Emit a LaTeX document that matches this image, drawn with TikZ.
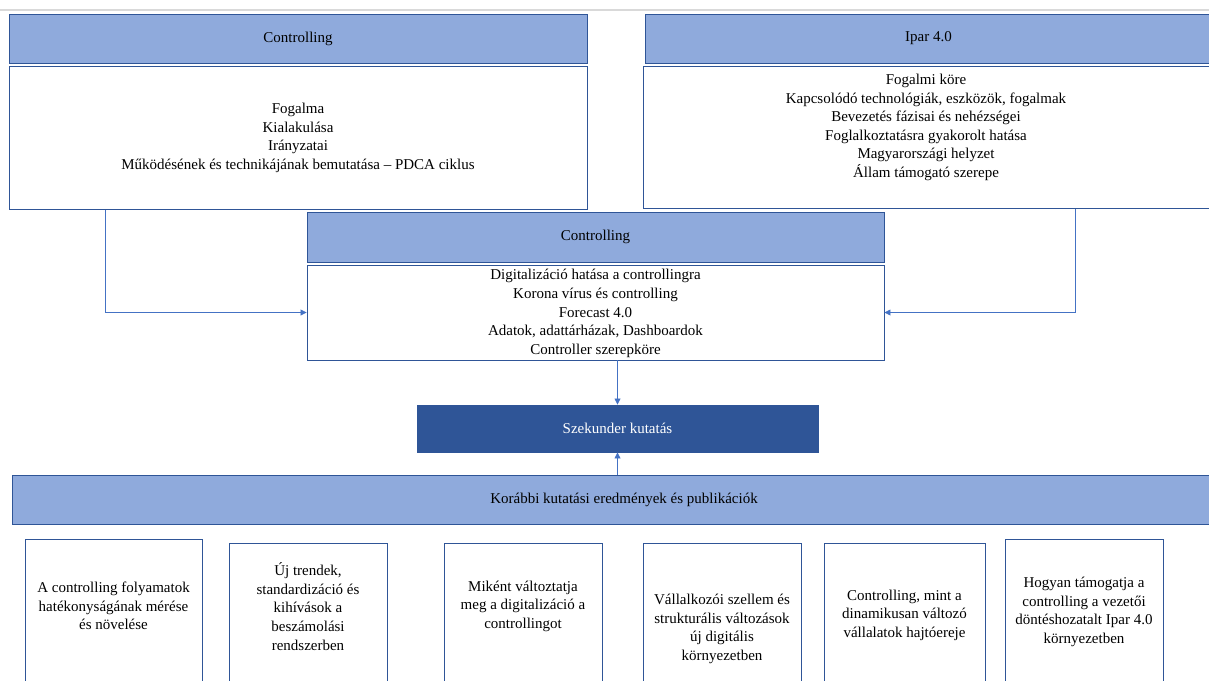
\documentclass[tikz,border=0pt]{standalone}
\usepackage{fontspec}
\setmainfont{Liberation Serif}
\usetikzlibrary{arrows.meta,calc}
\definecolor{lightblue}{HTML}{8FAADC}
\definecolor{darkblue}{HTML}{2F5597}
\definecolor{linkblue}{HTML}{4472C4}
\definecolor{topgray}{HTML}{D9D9D9}
\tikzset{
  every node/.style={font=\fontsize{15}{18.6}\selectfont, inner sep=0pt, align=center},
  hdr/.style={draw=darkblue, fill=lightblue, line width=0.9pt},
  bodybox/.style={draw=darkblue, fill=white, line width=0.9pt},
  darkbox/.style={draw=darkblue, fill=darkblue, text=white, line width=0.9pt},
  smallbox/.style={draw=darkblue, fill=white, line width=0.7pt, minimum height=150pt, anchor=north},
  link/.style={draw=linkblue, line width=0.8pt, -{Triangle[length=6pt,width=6pt]}}
}
\begin{document}
\begin{tikzpicture}[x=1pt,y=-1pt]
\useasboundingbox (0,0) rectangle (1209,680);
\begin{scope}
\clip (0,0) rectangle (1209,680);
\draw[topgray, line width=1.5pt] (0,10) -- (1209,10);
% top-left
\node[hdr, minimum width=578pt, minimum height=49pt] (tlh) at (298,38.5) {Controlling};
\node[bodybox, minimum width=578pt, minimum height=143pt] (tlb) at (298,137.5) {};
\node (tlt) at (298,138) {Fogalma\\Kialakulása\\Irányzatai\\Működésének és technikájának bemutatása – PDCA ciklus};
% top-right
\node[hdr, minimum width=567pt, minimum height=49pt] (trh) at (928.5,38.5) {Ipar 4.0};
\node[bodybox, minimum width=569pt, minimum height=142pt] (trb) at (927.5,137) {};
\node (trt) at (926,127.5) {Fogalmi köre\\Kapcsolódó technológiák, eszközök, fogalmak\\Bevezetés fázisai és nehézségei\\Foglalkoztatásra gyakorolt hatása\\Magyarországi helyzet\\Állam támogató szerepe};
% middle
\node[hdr, minimum width=577pt, minimum height=50pt] (mh) at (595.5,237) {Controlling};
\node[bodybox, minimum width=577pt, minimum height=95pt] (mb) at (595.5,312.5) {};
\node (mt) at (595.5,313.5) {Digitalizáció hatása a controllingra\\Korona vírus és controlling\\Forecast 4.0\\Adatok, adattárházak, Dashboardok\\Controller szerepköre};
% dark box
\node[darkbox, minimum width=401pt, minimum height=47pt] (sz) at (617.5,428.5) {Szekunder kutatás};
% Korabbi header
\node[hdr, minimum width=1224pt, minimum height=49pt] (kor) at (624,499.5) {Korábbi kutatási eredmények és publikációk};
% bottom boxes
\node[smallbox, minimum width=177pt] (b1) at (113.5,539) {};
\node at (113.5,606) {A controlling folyamatok\\hatékonyságának mérése\\és növelése};
\node[smallbox, minimum width=158pt] (b2) at (308,543) {};
\node at (308,606.5) {Új trendek,\\standardizáció és\\kihívások a\\beszámolási\\rendszerben};
\node[smallbox, minimum width=158pt] (b3) at (523,543) {};
\node at (523,606) {Miként változtatja\\meg a digitalizáció a\\controllingot};
\node[smallbox, minimum width=158pt] (b4) at (722,543) {};
\node at (722,629) {Vállalkozói szellem és\\strukturális változások\\új digitális\\környezetben};
\node[smallbox, minimum width=161pt] (b5) at (904.5,543) {};
\node at (904.5,615) {Controlling, mint a\\dinamikusan változó\\vállalatok hajtóereje};
\node[smallbox, minimum width=158pt] (b6) at (1084,539) {};
\node at (1084,612) {Hogyan támogatja a\\controlling a vezetői\\döntéshozatalt Ipar 4.0\\környezetben};
% connectors
\draw[link] ($(tlb.south west)+(97,1)$) |- (mb.west);
\draw[link] ($(trb.south west)+(433,1)$) |- (mb.east);
\draw[link] (mb.south -| sz.north) -- (sz.north);
\draw[link] (kor.north -| sz.south) -- (sz.south);
\end{scope}
\end{tikzpicture}
\end{document}
